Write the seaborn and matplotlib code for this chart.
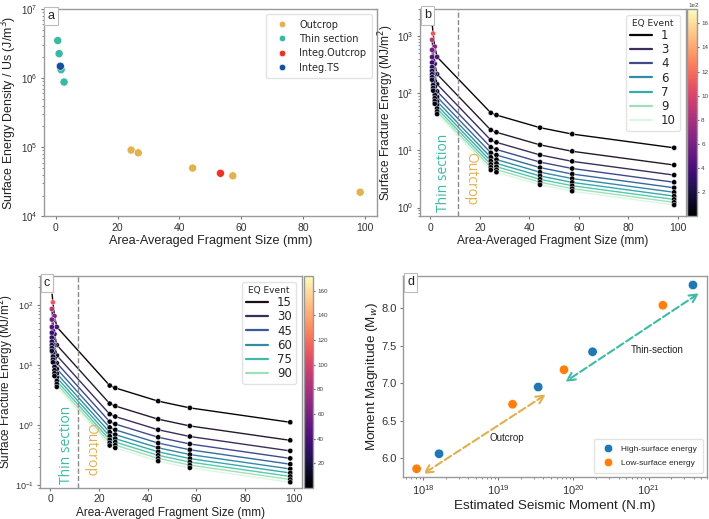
import matplotlib
matplotlib.use("Agg")
import matplotlib.pyplot as plt
import matplotlib.colors as mcolors
import matplotlib.transforms as mtrans
from matplotlib.lines import Line2D
import numpy as np
import pandas as pd
import seaborn as sns

# panel a: surface energy density per sample
thin_size = [0.66, 1.1, 1.75, 2.7]
thin_us = [3.48e6, 2.25e6, 1.32e6, 8.75e5]
outcrop_size = [24.4, 26.7, 44.3, 57.3, 98.5]
outcrop_us = [9.1e4, 8.3e4, 5.0e4, 3.86e4, 2.24e4]
integ_outcrop_size = [53.3]
integ_outcrop_us = [4.2e4]
integ_ts_size = [1.5]
integ_ts_us = [1.48e6]

# panels b, c: fracture energy of one rupture (MJ/m2), shared between n events
frag_size = [0.66, 1.1, 1.75, 2.7, 24.4, 26.7, 44.3, 57.3, 98.5]
energy_one = [1720, 1110, 655, 432, 45.5, 41.5, 25.0, 19.3, 11.1]
events_b = [1, 2, 3, 4, 5, 6, 7, 8, 9, 10]
events_c = [10, 20, 30, 40, 50, 60, 70, 80, 90, 100]
legend_b = [1, 3, 4, 6, 7, 9, 10]
legend_c = [15, 30, 45, 60, 75, 90]

# panel d
high_m0 = [1.63e18, 3.4e19, 1.8e20, 3.9e21]
high_mw = [6.06, 6.95, 7.42, 8.31]
low_m0 = [8.2e17, 1.55e19, 7.5e19, 1.55e21]
low_mw = [5.86, 6.72, 7.18, 8.04]

TEAL = "#3dbba5"
GOLD = "#e2b150"

sns.set_style("white")
plt.rcParams["font.family"] = ["Liberation Sans", "DejaVu Sans"]
plt.rcParams.update({
    "axes.edgecolor": "#9a9a9a",
    "axes.linewidth": 1.0,
    "axes.labelpad": 2,
    "xtick.color": "#777777",
    "ytick.color": "#777777",
    "xtick.labelcolor": "#333333",
    "ytick.labelcolor": "#333333",
    "xtick.bottom": True,
    "ytick.left": True,
    "xtick.major.size": 2.5,
    "ytick.major.size": 2.5,
    "xtick.minor.size": 1.5,
    "ytick.minor.size": 1.5,
    "xtick.major.pad": 2,
    "ytick.major.pad": 2,
    "xtick.labelsize": 7.5,
    "ytick.labelsize": 7.5,
    "axes.labelcolor": "#222222",
})

fig = plt.figure(figsize=(7.09, 5.19), dpi=100)
top_h = 0.400
top_y = 0.583
ax_a = fig.add_axes([0.062, top_y, 0.470, top_h])
ax_b = fig.add_axes([0.5924, top_y, 0.3752, top_h])
cax_b = fig.add_axes([0.9690, top_y, 0.0141, top_h])
ax_c = fig.add_axes([0.0564, 0.0597, 0.3695, 0.4085])
cax_c = fig.add_axes([0.4288, 0.0597, 0.0127, 0.4085])
ax_d = fig.add_axes([0.5684, 0.0809, 0.4288, 0.3873])


def panel_tag(ax, tag, x, y):
    ax.text(x, y, tag, transform=ax.transAxes, ha="center", va="center",
            fontsize=9, color="#222222",
            bbox=dict(boxstyle="square,pad=0.25", fc="white", ec="#bbbbbb", lw=0.8))


# ---- a ----
df_a = pd.DataFrame({
    "size": outcrop_size + thin_size + integ_outcrop_size + integ_ts_size,
    "us": outcrop_us + thin_us + integ_outcrop_us + integ_ts_us,
    "kind": ["Outcrop"] * len(outcrop_size) + ["Thin section"] * len(thin_size)
            + ["Integ.Outcrop"] * len(integ_outcrop_size) + ["Integ.TS"] * len(integ_ts_size),
})
pal_a = {"Outcrop": GOLD, "Thin section": "#3ab8a2",
         "Integ.Outcrop": "#ec3226", "Integ.TS": "#15509f"}
sns.scatterplot(data=df_a, x="size", y="us", hue="kind", palette=pal_a, s=34,
                edgecolor="white", linewidth=0.4, ax=ax_a)
ax_a.set_yscale("log")
ax_a.set_ylim(1e4, 1e7)
ax_a.set_xlim(-3.8, 104)
ax_a.set_xticks([0, 20, 40, 60, 80, 100])
ax_a.tick_params(axis="y", labelsize=7)
ax_a.set_xlabel("Area-Averaged Fragment Size (mm)", fontsize=9.1)
ax_a.set_ylabel("Surface Energy Density / Us (J/m$^3$)", fontsize=8.9)
ax_a.yaxis.set_label_coords(-0.075, 0.5)
leg = ax_a.legend(loc="upper right", frameon=True, markerscale=0.8,
                  prop={"family": "DejaVu Sans", "size": 7}, borderpad=0.6,
                  labelspacing=0.45, handletextpad=0.8)
leg.get_frame().set_edgecolor("#dddddd")
panel_tag(ax_a, "a", 0.021, 0.965)


# ---- b, c ----
def fracture_panel(ax, cax, events, legend_events, tag, txt_thin, txt_out,
                   ylim, cticks, clabels, offset_text, label_size, label_x,
                   tick_size):
    rows = []
    for n in events:
        for x, e in zip(frag_size, energy_one):
            rows.append({"size": x, "energy": e / n, "event": n})
    df = pd.DataFrame(rows)
    ev_norm = mcolors.Normalize(min(events), max(events))
    sns.lineplot(data=df, x="size", y="energy", hue="event", palette="mako",
                 hue_norm=ev_norm, legend=False, lw=1.0, estimator=None, ax=ax)
    e_norm = mcolors.Normalize(df["energy"].min(), max(energy_one) / min(events))
    sns.scatterplot(data=df, x="size", y="energy", hue="energy", palette="magma",
                    hue_norm=e_norm, s=14, edgecolor="white", linewidth=0.3,
                    legend=False, ax=ax, zorder=3)
    ax.set_yscale("log")
    ax.set_ylim(*ylim)
    ax.set_xlim(-4.2, 103.3)
    ax.set_xticks([0, 20, 40, 60, 80, 100])
    ax.tick_params(axis="y", labelsize=tick_size)
    ax.axvline(11.2, color="#8a8a8a", ls="--", lw=1.0)
    tr = mtrans.blended_transform_factory(ax.transData, ax.transAxes)
    ax.text(txt_thin, 0.02, "Thin section", transform=tr, rotation=90,
            ha="center", va="bottom", color=TEAL, fontsize=10,
            family="Open Sans")
    ax.text(txt_out, 0.055, "Outcrop", transform=tr, rotation=270,
            ha="center", va="bottom", color=GOLD, fontsize=10,
            family="Open Sans")
    ax.set_xlabel("Area-Averaged Fragment Size (mm)", fontsize=label_size)
    ax.set_ylabel("Surface Fracture Energy (MJ/m$^2$)", fontsize=label_size)
    ax.yaxis.set_label_coords(label_x, 0.5)
    cmap_ev = plt.get_cmap("mako")
    handles = [Line2D([], [], color=cmap_ev(ev_norm(v)), lw=1.6) for v in legend_events]
    leg = ax.legend(handles, [str(v) for v in legend_events], title="EQ Event",
                    loc="upper right", prop={"family": "DejaVu Sans", "size": 8.5},
                    title_fontproperties={"family": "DejaVu Sans", "size": 6.5},
                    labelspacing=0.1, handlelength=1.8, borderpad=0.35,
                    frameon=True)
    leg.get_frame().set_edgecolor("#dddddd")
    sm = plt.cm.ScalarMappable(norm=e_norm, cmap="magma")
    cb = fig.colorbar(sm, cax=cax)
    cb.set_ticks(cticks)
    cb.set_ticklabels(clabels)
    cb.ax.tick_params(labelsize=4.5, length=1.5, pad=1.5, color="#666666",
                      labelcolor="#444444")
    cb.outline.set_edgecolor("#9a9a9a")
    if offset_text:
        cax.text(0.7, 1.005, offset_text, transform=cax.transAxes, ha="center",
                 va="bottom", fontsize=4.5, color="#444444")
    panel_tag(ax, tag, 0.027, 0.968)


fracture_panel(ax_b, cax_b, events_b, legend_b, "b", 5.2, 16.3, (0.7, 3000),
               [200, 400, 600, 800, 1000, 1200, 1400, 1600],
               ["2", "4", "6", "8", "10", "12", "14", "16"], "1e2", 8.6, -0.09, 7)
fracture_panel(ax_c, cax_c, events_c, legend_c, "c", 6.7, 16.7, (0.089, 305),
               [20, 40, 60, 80, 100, 120, 140, 160],
               ["20", "40", "60", "80", "100", "120", "140", "160"], None, 8.5, -0.09, 6.5)

# ---- d ----
df_d = pd.DataFrame({
    "m0": high_m0 + low_m0,
    "mw": high_mw + low_mw,
    "group": ["High-surface energy"] * len(high_m0) + ["Low-surface energy"] * len(low_m0),
})
sns.scatterplot(data=df_d, x="m0", y="mw", hue="group",
                palette={"High-surface energy": "#1f77b4", "Low-surface energy": "#ff7f0e"},
                s=46, edgecolor="white", linewidth=0.4, ax=ax_d)
ax_d.set_xscale("log")
ax_d.set_xlim(5.4e17, 6e21)
ax_d.set_ylim(5.75, 8.43)
ax_d.set_yticks([6.0, 6.5, 7.0, 7.5, 8.0])
ax_d.tick_params(labelsize=8)
ax_d.annotate("", xy=(1.0e18, 5.79), xytext=(4.3e19, 6.85),
              arrowprops=dict(arrowstyle="<->", ls="--", color="#e0b04c", lw=1.5,
                              mutation_scale=14, shrinkA=0, shrinkB=0))
ax_d.annotate("", xy=(7.8e19, 7.02), xytext=(4.7e21, 8.2),
              arrowprops=dict(arrowstyle="<->", ls="--", color="#3dbba5", lw=1.5,
                              mutation_scale=14, shrinkA=0, shrinkB=0))
ax_d.text(1.29e19, 6.27, "Outcrop", ha="center", va="center", fontsize=7, color="#222222")
ax_d.text(1.29e21, 7.45, "Thin-section", ha="center", va="center", fontsize=7, color="#222222")
ax_d.set_xlabel("Estimated Seismic Moment (N.m)", fontsize=9.7)
ax_d.set_ylabel("Moment Magnitude (M$_w$)", fontsize=9.7)
ax_d.yaxis.set_label_coords(-0.076, 0.5)
leg = ax_d.legend(loc="lower right", fontsize=6, markerscale=0.9,
                  borderpad=0.7, labelspacing=0.8, handletextpad=0.6)
leg.get_frame().set_edgecolor("#dddddd")
panel_tag(ax_d, "d", 0.025, 0.968)

fig.savefig("out.png", dpi=100)
